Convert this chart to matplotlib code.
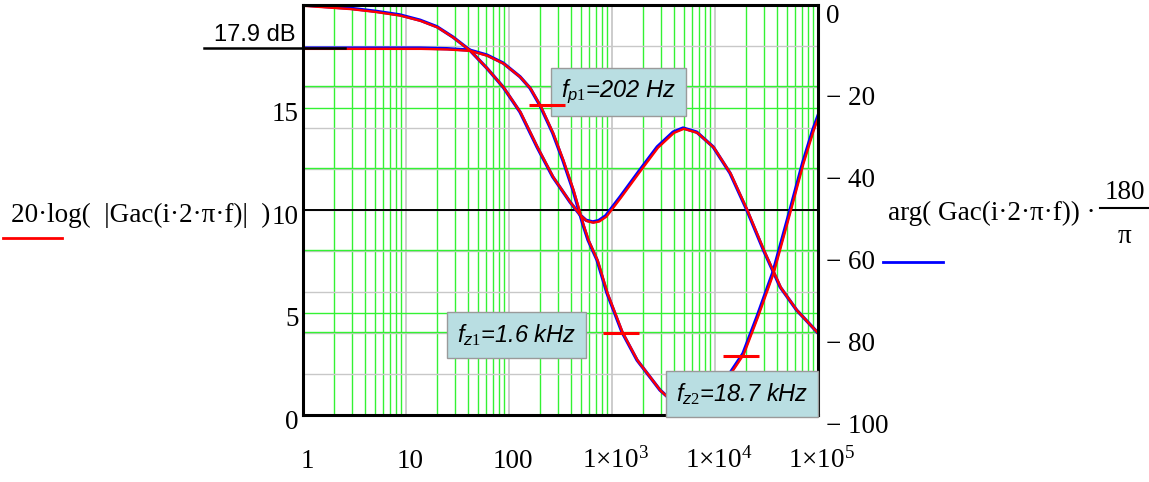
# %% Bode-Diagramm (Mathcad-Stil) nachgebaut

import numpy as np
import matplotlib.pyplot as plt
import matplotlib.transforms as mtransforms

plt.rcParams['font.family'] = 'Liberation Serif'
plt.rcParams['mathtext.fontset'] = 'custom'
plt.rcParams['mathtext.rm'] = 'Liberation Serif'
plt.rcParams['mathtext.it'] = 'Liberation Sans:italic'

# %% Daten

# Betrag in dB
f_gain = [1, 5, 13.7, 25, 41.6, 61, 87.7, 128, 160, 200, 266, 333, 418, 522,
          585, 716, 894, 1250, 1750, 2920, 4000, 6000, 9000, 11500, 14000,
          18700, 25600, 36600, 53500, 71000, 89000, 100000]
gain_db = [17.9, 17.9, 17.9, 17.87, 17.8, 17.56, 17.17, 16.5, 15.95, 15.1,
           13.75, 12.44, 10.98, 9.3, 8.54, 7.56, 5.95, 4.05, 2.68, 1.22, 0.6,
           0.35, 0.8, 1.4, 2.05, 3.0, 4.8, 6.98, 10.0, 12.3, 13.9, 14.6]

# Phase in Grad
f_phase = [1, 2.86, 5, 8.7, 13.7, 20, 28.5, 41.6, 61, 87.7, 128, 187, 266,
           390, 490, 560, 650, 740, 870, 1200, 1870, 2750, 3920, 4900, 6650,
           9600, 14000, 20400, 29600, 43000, 62000, 100000]
phase_deg = [0, -0.8, -1.5, -2.4, -3.7, -5.3, -7.8, -11.0, -15.4, -20.0,
             -26.1, -34.6, -41.9, -48.0, -51.2, -52.5, -52.9, -52.6, -51.4,
             -46.8, -40.2, -34.6, -31.0, -30.0, -31.0, -34.6, -41.0, -50.0,
             -59.8, -68.8, -74.4, -80.0]

# Marker auf der Betragskurve
marker_f = [234, 1220, 17900]
marker_db = [15.1, 4.0, 2.9]
marker_text = [r'$f_{\mathit{p1}}$=202 Hz', r'$f_{\mathit{z1}}$=1.6 kHz',
               r'$f_{\mathit{z2}}$=18.7 kHz']

dc_gain = 17.9

x_ticks = [1, 10, 100, 1e3, 1e4, 1e5]
x_labels = ['1', '10', '100', r'$\mathregular{1×10^{3}}$',
            r'$\mathregular{1×10^{4}}$', r'$\mathregular{1×10^{5}}$']
y_ticks = [0, 5, 10, 15]
y2_ticks = [0, -20, -40, -60, -80, -100]
y2_labels = ['0', '− 20', '− 40', '− 60', '− 80', '− 100']

green = '#33F233'
gray = '#C8C8C8'
fs = 19.5

# %% Plot

fig = plt.figure(figsize=(11.49, 4.82), dpi=100)
ax = fig.add_axes([0.2637, 0.139, 0.4482, 0.8506])
ax2 = ax.twinx()
ax.set_xscale('log')
ax.set_xlim(1, 1e5)
ax.set_ylim(0, 20)
ax2.set_ylim(-100, 0)

# Gitter
for dec in [1, 10, 100, 1e3, 1e4]:
    for m in range(2, 10):
        ax.axvline(m*dec, color=green, lw=1.0, zorder=1)
for dec in [10, 100, 1e3, 1e4]:
    ax.axvline(dec, color=gray, lw=1.3, zorder=1.1)
for p in range(-10, -100, -10):
    ax.plot([0, 1], [p, p], color=gray, lw=1.0, zorder=1,
            transform=ax2.get_yaxis_transform())
for p in [-20, -40, -60, -80]:
    ax.plot([0, 1], [p + 0.35, p + 0.35], color=green, lw=1.0, zorder=1.2,
            transform=ax2.get_yaxis_transform())
for g in [5, 15]:
    ax.axhline(g, color=green, lw=1.0, zorder=1.2)
ax.axhline(10, color='k', lw=1.4, zorder=1.3)

# Kurven (blau + rot ueberlagert)
off = mtransforms.offset_copy(ax.transData, fig=fig, x=0.8, y=-0.8, units='dots')
off2 = mtransforms.offset_copy(ax2.transData, fig=fig, x=0.8, y=-0.8, units='dots')
ax.plot(f_gain, gain_db, color='#0000FF', lw=2.4, zorder=3)
ax.plot(f_gain, gain_db, color='#FF0000', lw=1.7, zorder=3.1, transform=off)
ax.plot(f_phase, phase_deg, color='#0000FF', lw=2.4, zorder=3,
        transform=ax2.transData)
ax.plot(f_phase, phase_deg, color='#FF0000', lw=1.7, zorder=3.1, transform=off2)

# Beschriftungsboxen
box_pos = [(0.612, 0.788), (0.4146, 0.196), (0.852, 0.051)]
for (bx, by), txt in zip(box_pos, marker_text):
    ax.text(bx, by, txt, transform=ax.transAxes, ha='center', va='center',
            family='Liberation Sans', style='italic', fontsize=17, zorder=6,
            bbox=dict(boxstyle='square,pad=0.42', fc='#B9DEE2', ec='#9A9A9A',
                      lw=1.0))

# Marker
for mf, mdb in zip(marker_f, marker_db):
    ax.plot([mf/10**0.175, mf*10**0.175], [mdb, mdb], color='#FF0000',
            lw=2.2, zorder=7, solid_capstyle='butt')

# 17.9 dB Markierung
ax.plot([-0.192, 0.0816], [dc_gain, dc_gain], color='k', lw=1.8, zorder=4,
        transform=ax.get_yaxis_transform(), clip_on=False)
ax.text(-0.0155, 0.912, '17.9 dB', transform=ax.transAxes, ha='right',
        va='baseline', family='Liberation Sans', fontsize=17)

# Achsen
ax.set_xticks(x_ticks, x_labels)
ax.xaxis.set_minor_locator(plt.NullLocator())
ax.set_yticks(y_ticks, [str(v) for v in y_ticks])
ax2.set_yticks(y2_ticks, y2_labels)
ax.tick_params(axis='x', length=0, pad=38, labelsize=fs)
ax.tick_params(axis='y', length=0, pad=3, labelsize=fs)
ax2.tick_params(axis='y', length=0, pad=6, labelsize=fs)

for lbl in ax.get_xticklabels():
    lbl.set_verticalalignment('baseline')
    lbl.set_transform(lbl.get_transform() + mtransforms.ScaledTranslation(
        0.04, 0, fig.dpi_scale_trans))
for lbl in ax.get_yticklabels():
    lbl.set_transform(lbl.get_transform() + mtransforms.ScaledTranslation(
        0, -0.04, fig.dpi_scale_trans))
for lbl in ax2.get_yticklabels():
    lbl.set_transform(lbl.get_transform() + mtransforms.ScaledTranslation(
        0, -0.08, fig.dpi_scale_trans))

for s in ax.spines.values():
    s.set_linewidth(2.2)
    s.set_zorder(5)
for s in ax2.spines.values():
    s.set_visible(False)

# Achsenbeschriftungen
ax.text(-0.064, 0.471, '20·log(  |Gac(i·2·π·f)|  )', transform=ax.transAxes,
        ha='right', va='baseline', fontsize=fs)
ax.plot([-0.5825, -0.468], [0.4317, 0.4317], color='#FF0000', lw=2,
        transform=ax.transAxes, clip_on=False)

ax.text(1.136, 0.4756, 'arg( Gac(i·2·π·f)) ·', transform=ax.transAxes,
        ha='left', va='baseline', fontsize=fs)
ax.text(1.596, 0.527, '180', transform=ax.transAxes, ha='center',
        va='baseline', fontsize=fs)
ax.plot([1.5476, 1.641], [0.505, 0.505], color='k', lw=1.5,
        transform=ax.transAxes, clip_on=False)
ax.text(1.596, 0.4195, 'π', transform=ax.transAxes, ha='center',
        va='baseline', fontsize=fs)
ax.plot([1.126, 1.243], [0.373, 0.373], color='#0000FF', lw=2,
        transform=ax.transAxes, clip_on=False)

ax.set_xlim(1, 1e5)
ax.set_ylim(0, 20)

fig.savefig('out.png', dpi=100, facecolor='white')
